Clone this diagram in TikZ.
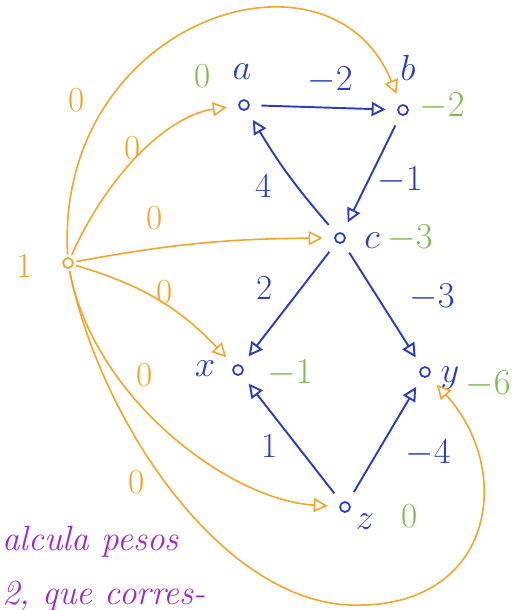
\documentclass[tikz,border=0pt]{standalone}
\usepackage{amsmath, amssymb}
\usepackage{xcolor}
\usepackage{tikz}
\usetikzlibrary{arrows.meta, positioning}

\definecolor{caneta}{RGB}{42,62,190}
\definecolor{laranja}{RGB}{244,164,40}
\definecolor{verde}{RGB}{128,186,84}
\definecolor{roxo}{RGB}{160,40,200}

\begin{document}
\begin{tikzpicture}[x=0.02cm, y=-0.02cm,
    >={Triangle[open, length=8pt, width=8pt]},
    vert/.style={circle, draw=caneta, line width=1pt, inner sep=0pt, minimum size=0.2cm, outer sep=7pt},
    aresta/.style={->, caneta, line width=1.1pt},
    fonte/.style={->, laranja, line width=0.9pt},
    rot/.style={font=\fontsize{20}{22}\selectfont},
    peso/.style={rot, caneta},
    zero/.style={rot, laranja},
    dist/.style={rot, verde}]
    \useasboundingbox (0,0) rectangle (513,610);

    % 1. Vértices
    \node[vert, draw=laranja, outer sep=2pt] (s) at (68,263) {};
    \node[vert] (a) at (244,105) {};
    \node[vert] (b) at (403,110) {};
    \node[vert] (c) at (340,238) {};
    \node[vert] (x) at (238,370) {};
    \node[vert] (y) at (425,372) {};
    \node[vert] (z) at (345,507) {};

    % 2. Nomes e distâncias
    \node[zero] (ns) at (25,266) {1};
    \node[dist] (da) at (203,76) {0};
    \node[peso] (na) at (242,72) {$a$};
    \node[peso] (nb) at (408,68) {$b$};
    \node[dist] (db) at (442,106) {$-2$};
    \node[peso] (nc) at (372,241) {$c$};
    \node[dist] (dc) at (410,238) {$-3$};
    \node[peso] (nx) at (205,369) {$x$};
    \node[dist] (dx) at (290,373) {$-1$};
    \node[peso] (ny) at (450,378) {$y$};
    \node[dist] (dy) at (488,384) {$-6$};
    \node[peso] (nz) at (365,522) {$z$};
    \node[dist] (dz) at (410,516) {0};

    % 3. Arestas do grafo
    \draw[aresta] (a) -- (b);
    \draw[aresta] (b) -- (c);
    \draw[aresta] (c) to[bend left=5] (a);
    \draw[aresta] (c) -- (x);
    \draw[aresta] (c) -- (y);
    \draw[aresta] (z) -- (x);
    \draw[aresta] (z) -- (y);
    \node[peso] (wab) at (330,80) {$-2$};
    \node[peso] (wbc) at (400,180) {$-1$};
    \node[peso] (wca) at (264,186) {4};
    \node[peso] (wcx) at (265,288) {2};
    \node[peso] (wcy) at (432,297) {$-3$};
    \node[peso] (wzx) at (270,446) {1};
    \node[peso] (wzy) at (428,453) {$-4$};

    % 4. Arestas novas saindo do vértice 1
    \draw[fonte] (s) .. controls (55,20) and (330,-70) .. (b);
    \draw[fonte] (s) .. controls (110,170) and (170,115) .. (a);
    \draw[fonte] (s) to[bend left=5] (c);
    \draw[fonte] (s) to[bend left=15] (x);
    \draw[fonte] (s) .. controls (95,400) and (230,500) .. (z);
    \draw[fonte] (s) .. controls (100,420) and (220,600) .. (350,605)
        .. controls (495,610) and (515,470) .. (y);
    \node[zero] (w1) at (77,100) {0};
    \node[zero] (w2) at (133,148) {0};
    \node[zero] (w3) at (155,218) {0};
    \node[zero] (w4) at (165,292) {0};
    \node[zero] (w5) at (145,375) {0};
    \node[zero] (w6) at (137,482) {0};

    % 5. Texto
    \node[roxo, font=\fontsize{20}{24}\selectfont\itshape, anchor=west] (t1) at (-4,542) {alcula pesos};
    \node[roxo, font=\fontsize{20}{24}\selectfont\itshape, anchor=west] (t2) at (-4,596) {2, que corres-};
\end{tikzpicture}
\end{document}
